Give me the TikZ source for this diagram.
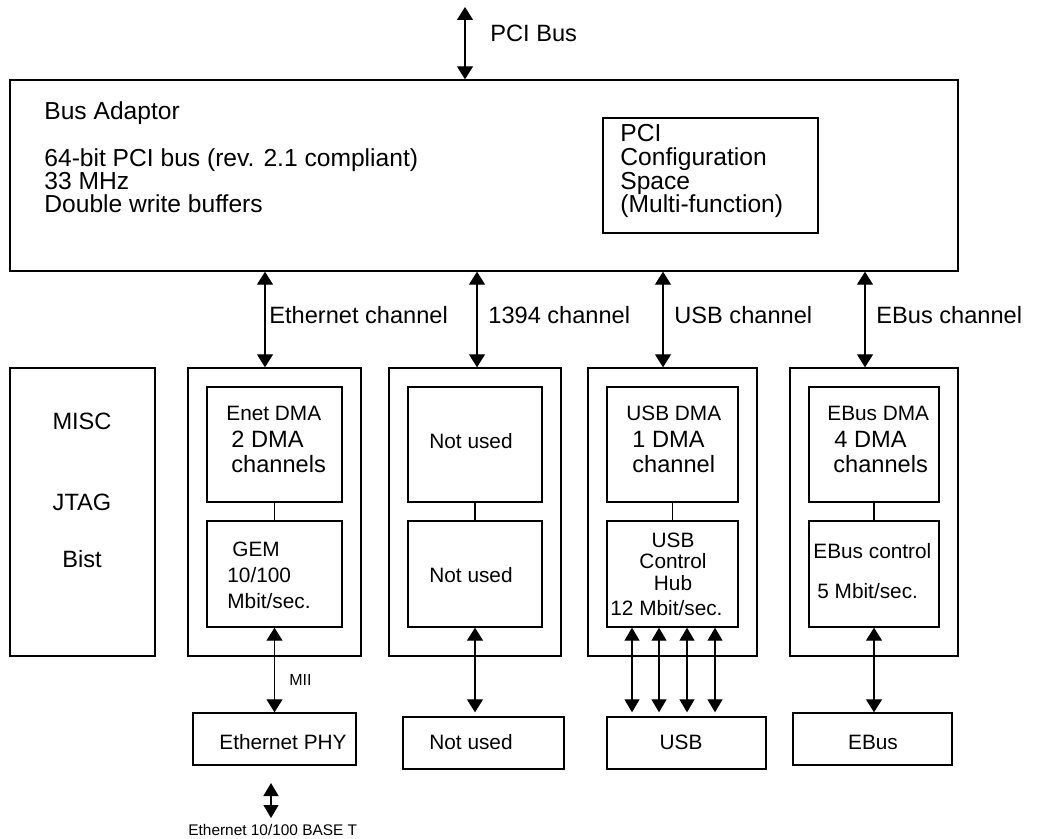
\documentclass[tikz,border=0pt]{standalone}
\usepackage{fontspec}
\setmainfont{Liberation Sans}
\usetikzlibrary{arrows.meta}
\begin{document}
\begin{tikzpicture}[x=0.5pt,y=-0.5pt,
  bx/.style 2 args={draw,line width=0.7pt,minimum width=#1*0.5pt,minimum height=#2*0.5pt,inner sep=0pt},
  ln/.style={line width=0.65pt},
  bi/.style={line width=0.65pt,{Triangle[width=8pt,length=6.5pt]}-{Triangle[width=8pt,length=6.5pt]}},
  bis/.style={line width=0.65pt,{Triangle[width=7.5pt,length=6.5pt]}-{Triangle[width=7.5pt,length=6.5pt]}},
  tw/.style={inner sep=0pt,anchor=base west},
  tc/.style={inner sep=0pt,anchor=base},
  fA/.style={font=\fontsize{11.8}{13}\selectfont},
  fB/.style={font=\fontsize{12.3}{13}\selectfont},
  fC/.style={font=\fontsize{10.4}{12}\selectfont},
  fD/.style={font=\fontsize{8}{9}\selectfont},
  fE/.style={font=\fontsize{7.7}{9}\selectfont}]
\useasboundingbox (0,0) rectangle (1037,839);

% boxes
\node[bx={948}{191}] (bus) at (484,175.5) {};
\node[bx={215}{115}] (cfg) at (710.5,175.5) {};
\node[bx={145}{288}] (misc) at (82.5,512) {};
\node[bx={173}{288}] (ethout) at (274.5,512) {};
\node[bx={135}{115}] (edma) at (274.5,444.5) {};
\node[bx={135}{106}] (gem) at (274.5,574) {};
\node[bx={172}{288}] (fwout) at (475,512) {};
\node[bx={134}{115}] (fwdma) at (475,444.5) {};
\node[bx={134}{106}] (fwctl) at (475,574) {};
\node[bx={169}{288}] (usbout) at (672.5,512) {};
\node[bx={131}{115}] (usbdma) at (672.5,444.5) {};
\node[bx={131}{106}] (usbhub) at (672.5,574) {};
\node[bx={168}{288}] (ebout) at (874,512) {};
\node[bx={130}{115}] (ebdma) at (874,444.5) {};
\node[bx={130}{106}] (ebctl) at (874,574) {};
\node[bx={163}{52}] (phy) at (274.5,739) {};
\node[bx={161}{52}] (nu) at (483.5,743) {};
\node[bx={159}{52}] (usb) at (686.5,743) {};
\node[bx={159}{52}] (ebus) at (872.5,739) {};

% bus adaptor text
\node[tw,fB] (tba) at (44,120) {Bus Adaptor};
\node[tw,fB] (tb1) at (44,167) {64-bit PCI bus (rev. 2.1 compliant)};
\node[tw,fB] (tb2) at (44,190) {33 MHz};
\node[tw,fB] (tb3) at (44,213) {Double write buffers};
\node[tw,fB] (tc1) at (620,142) {PCI};
\node[tw,fB] (tc2) at (620,166) {Configuration};
\node[tw,fB] (tc3) at (620,190) {Space};
\node[tw,fB] (tc4) at (620,213) {(Multi-function)};

% PCI bus
\coordinate (pcitop) at (465,7);
\draw[bi] (pcitop) -- (bus.north -| pcitop);
\node[tw,fA] (tpci) at (490,42) {PCI Bus};

% channels
\coordinate (cE) at (265,0);
\coordinate (cF) at (477,0);
\coordinate (cU) at (663,0);
\coordinate (cB) at (865,0);
\draw[bi] (bus.south -| cE) -- (ethout.north -| cE);
\draw[bi] (bus.south -| cF) -- (fwout.north -| cF);
\draw[bi] (bus.south -| cU) -- (usbout.north -| cU);
\draw[bi] (bus.south -| cB) -- (ebout.north -| cB);
\node[tw,fA] (lE) at (269,323) {Ethernet channel};
\node[tw,fA] (lF) at (488,323) {1394 channel};
\node[tw,fA] (lU) at (674,323) {USB channel};
\node[tw,fA] (lB) at (876,323) {EBus channel};

% misc
\node[tc,fA] (tm1) at (82,429) {MISC};
\node[tc,fA] (tm2) at (82,510) {JTAG};
\node[tc,fA] (tm3) at (82,567) {Bist};

% ethernet
\node[tw,fC] (te1) at (226,420) {Enet DMA};
\node[tw,fA] (te2) at (231,447) {2 DMA};
\node[tw,fA] (te3) at (231,472) {channels};
\node[tw,fC] (tg1) at (232,556) {GEM};
\node[tw,fC] (tg2) at (227,582) {10/100};
\node[tw,fC] (tg3) at (227,608) {Mbit/sec.};
\draw[ln] (edma.south) -- (gem.north);

% 1394
\node[tw,fC] (tf1) at (429,448) {Not used};
\node[tw,fC] (tf2) at (429,582) {Not used};
\draw[ln] (fwdma.south) -- (fwctl.north);

% USB
\node[tw,fC] (tu1) at (626,420) {USB DMA};
\node[tw,fA] (tu2) at (632,447) {1 DMA};
\node[tw,fA] (tu3) at (632,472) {channel};
\node[tc,fC] (th1) at (673,547) {USB};
\node[tc,fC] (th2) at (673,568) {Control};
\node[tc,fC] (th3) at (673,590) {Hub};
\node[tw,fC] (th4) at (610,615) {12 Mbit/sec.};
\draw[ln] (usbdma.south) -- (usbhub.north);

% EBus
\node[tw,fC] (tx1) at (827,420) {EBus DMA};
\node[tw,fA] (tx2) at (834,447) {4 DMA};
\node[tw,fA] (tx3) at (833,472) {channels};
\node[tw,fC] (ty1) at (813,558) {EBus control};
\node[tw,fC] (ty2) at (817,598) {5 Mbit/sec.};
\draw[ln] (ebdma.south) -- (ebctl.north);

% bottom connections
\draw[bi] (gem.south) -- (phy.north);
\node[tw,fD] (tmii) at (289,685) {MII};
\draw[bi,shorten >=2pt] (fwctl.south) -- (nu.north -| fwctl.south);
\draw[bis,shorten >=2pt] (usbhub.south -| 632,0) -- (usb.north -| 632,0);
\draw[bis,shorten >=2pt] (usbhub.south -| 659,0) -- (usb.north -| 659,0);
\draw[bis,shorten >=2pt] (usbhub.south -| 687,0) -- (usb.north -| 687,0);
\draw[bis,shorten >=2pt] (usbhub.south -| 715,0) -- (usb.north -| 715,0);
\draw[bi] (ebctl.south) -- (ebus.north -| ebctl.south);

% bottom labels
\node[tw,fC] (tp1) at (219,749) {Ethernet PHY};
\node[tw,fC] (tp2) at (429,749) {Not used};
\node[tc,fC] (tp3) at (681,749) {USB};
\node[tc,fC] (tp4) at (873,749) {EBus};

% ethernet line
\coordinate (et1) at (271,783);
\coordinate (et2) at (271,818);
\draw[bis] (et1) -- (et2);
\node[tw,fE] (tet) at (188,835) {Ethernet 10/100 BASE T};
\end{tikzpicture}
\end{document}
